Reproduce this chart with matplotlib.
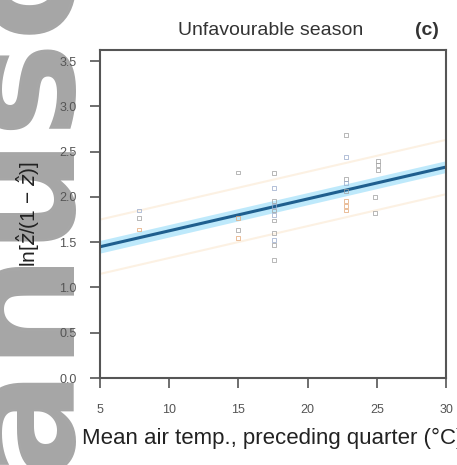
import numpy as np
import matplotlib
matplotlib.use('Agg')
import matplotlib.pyplot as plt

plt.rcParams['font.family'] = ['Liberation Sans', 'DejaVu Sans']

# observed points (temperature, logit response, site group)
temp = [7.8, 7.8, 7.8,
        15.0, 15.0, 15.0, 15.0,
        17.6, 17.6, 17.6, 17.6, 17.6, 17.6, 17.6, 17.6, 17.6, 17.6, 17.6,
        22.8, 22.8, 22.8, 22.8, 22.8, 22.8, 22.8, 22.8,
        25.1, 25.1, 25.1, 24.9, 24.9]
logit = [1.85, 1.77, 1.64,
         2.27, 1.77, 1.63, 1.55,
         2.26, 2.10, 1.96, 1.90, 1.85, 1.80, 1.74, 1.60, 1.52, 1.47, 1.30,
         2.68, 2.44, 2.20, 2.15, 2.07, 1.96, 1.90, 1.85,
         2.40, 2.35, 2.30, 2.00, 1.82]
group = ['b', 'g', 'o',
         'g', 'o', 'g', 'o',
         'g', 'b', 'g', 'b', 'g', 'b', 'g', 'g', 'b', 'g', 'g',
         'g', 'b', 'g', 'b', 'g', 'o', 'o', 'o',
         'g', 'g', 'g', 'g', 'g']

# fitted regression and its confidence band
fit_x = [5, 30]
fit_y = [1.45, 2.33]
fit_lo = [1.38, 2.27]
fit_hi = [1.52, 2.40]
# prediction band (faint)
pred_lo = [1.15, 2.03]
pred_hi = [1.75, 2.63]

xticks = [5, 10, 15, 20, 25, 30]
yticks = [0.0, 0.5, 1.0, 1.5, 2.0, 2.5, 3.0, 3.5]

colors = {'g': '#a0a0a0', 'b': '#9aabcc', 'o': '#e3a878'}

fig = plt.figure(figsize=(4.57, 4.65), dpi=100)
ax = fig.add_axes([0.219, 0.187, 0.757, 0.705])

ax.plot(fit_x, pred_lo, color='#f5c890', lw=1.5, alpha=0.25)
ax.plot(fit_x, pred_hi, color='#f5c890', lw=1.5, alpha=0.25)
ax.fill_between(fit_x, fit_lo, fit_hi, color='#aee4fa', alpha=0.8, lw=0)
ax.plot(fit_x, fit_y, color='#1f5f8f', lw=2.2)

for g, c in colors.items():
    xs = [t for t, k in zip(temp, group) if k == g]
    ys = [v for v, k in zip(logit, group) if k == g]
    ax.scatter(xs, ys, s=8, marker='s', facecolor='none', edgecolor=c, lw=0.7, alpha=0.75, zorder=3)

ax.set_xlim(5, 30)
ax.set_ylim(0, 3.62)
ax.set_xticks(xticks)
ax.set_xticklabels([str(t) for t in xticks])
ax.set_yticks(yticks)
ax.set_yticklabels(['%.1f' % t for t in yticks])
ax.tick_params(direction='out', length=7, width=1.2, colors='#555555',
               labelsize=9, labelcolor='#555555')
ax.tick_params(axis='x', pad=12)
ax.tick_params(axis='y', pad=10)
for s in ax.spines.values():
    s.set_color('#555555')
    s.set_linewidth(1.5)

ax.set_xlabel('Mean air temp., preceding quarter (\u00b0C)', fontsize=16, color='#222222', labelpad=8)
ax.set_ylabel('ln[$\\hat{z}$/(1 \u2212 $\\hat{z}$)]', fontsize=15, color='#222222', labelpad=12)

fig.text(0.592, 0.935, 'Unfavourable season', ha='center', va='center', fontsize=14, color='#333333')
fig.text(0.935, 0.935, '(c)', ha='center', va='center', fontsize=14, color='#333333', weight='bold')

# watermark, running bottom to top off the left edge
fig.text(0.135, -0.363, 'manuscript', rotation=90, rotation_mode='anchor',
         ha='left', va='baseline', fontsize=117, weight='bold', color='#808080', alpha=0.7,
         family='DejaVu Sans', zorder=-1)

fig.savefig('out.png', dpi=100)
